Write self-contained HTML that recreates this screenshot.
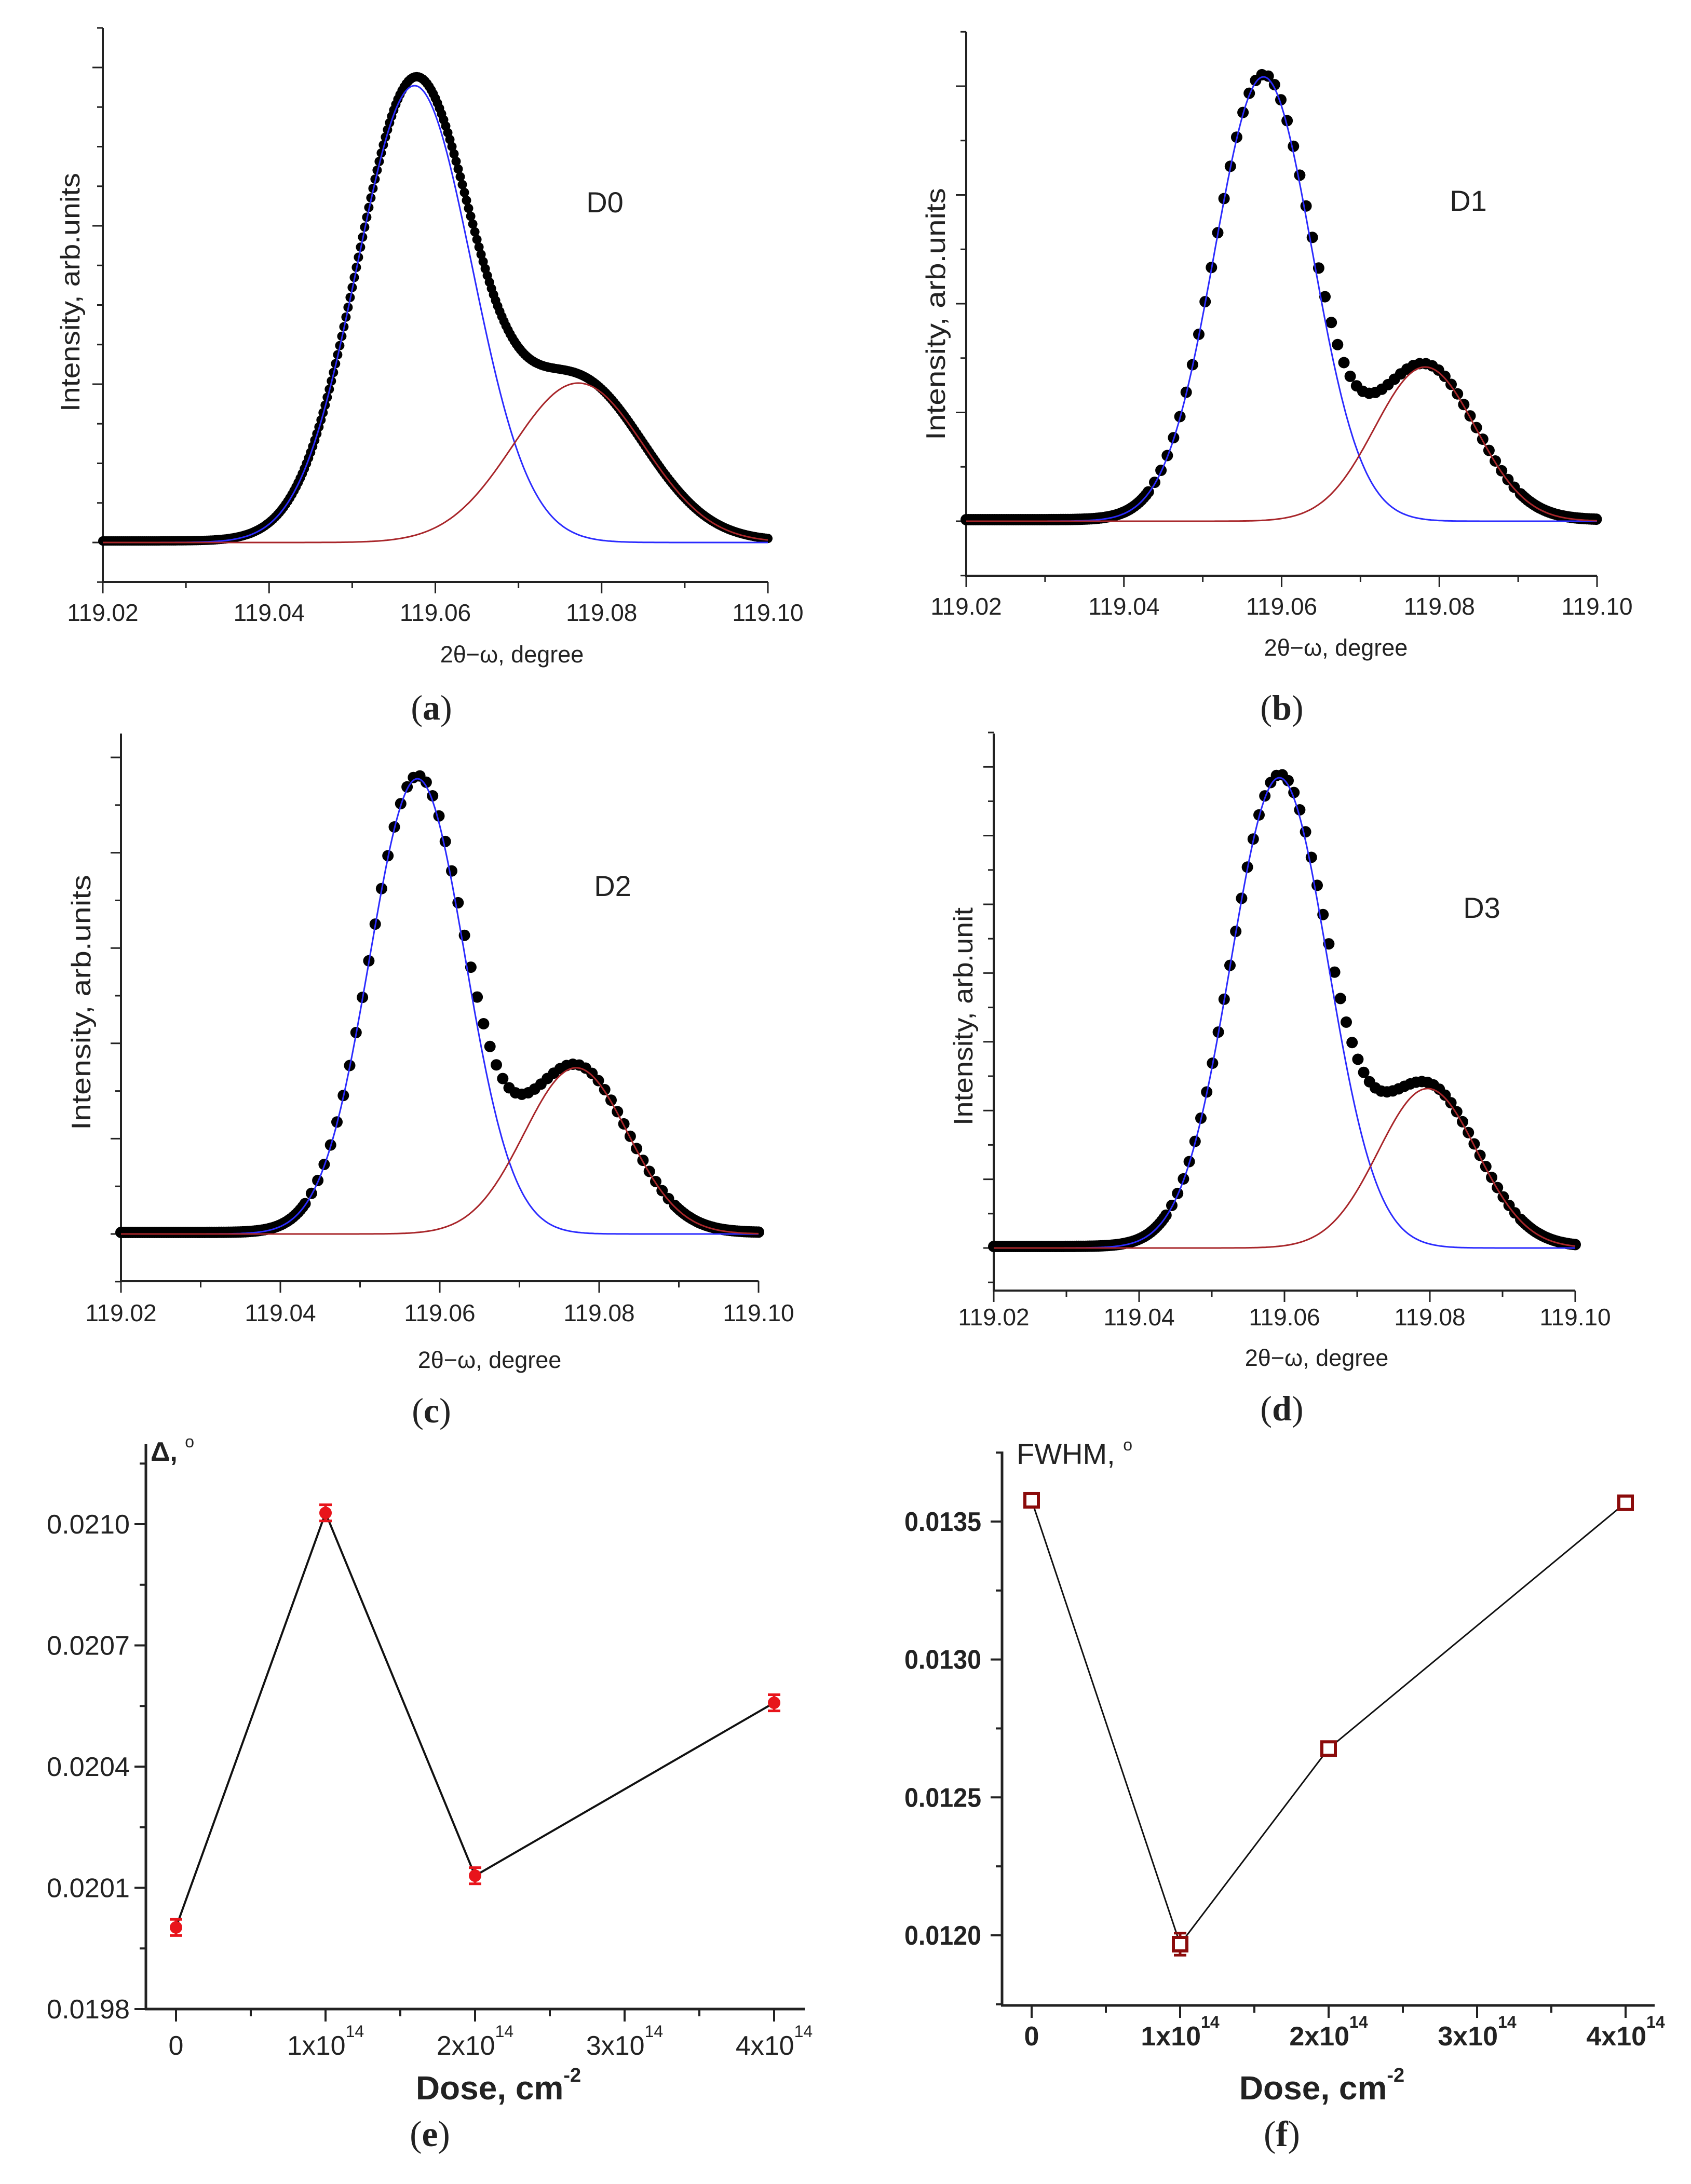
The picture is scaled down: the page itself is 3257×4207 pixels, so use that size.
<!DOCTYPE html>
<html><head><meta charset="utf-8"><style>
html,body{margin:0;padding:0;background:#fff}
svg{display:block}
text{font-family:"Liberation Sans",sans-serif;fill:#222}
</style></head><body>
<svg id="fig" width="3257" height="4207" viewBox="0 0 3257 4207" xmlns="http://www.w3.org/2000/svg">
<rect x="0" y="0" width="3257" height="4207" fill="#fff"/>
</svg>
<script>
// ---- data: spectra peak parameters (normalized intensity) ----
const xTickValues = [119.02, 119.04, 119.06, 119.08, 119.10];
const xTickLabels = ["119.02", "119.04", "119.06", "119.08", "119.10"];
const centersA = [119.0575, 119.0772];
const heightsA = [1.0, 0.349];
const sigmasA = [0.0069, 0.0079];
const centersB = [119.0577, 119.0782];
const heightsB = [1.0, 0.347];
const sigmasB = [0.0062, 0.0064];
const centersC = [119.0572, 119.0771];
const heightsC = [1.0, 0.365];
const sigmasC = [0.0060, 0.0065];
const centersD = [119.0593, 119.0797];
const heightsD = [1.0, 0.339];
const sigmasD = [0.0067, 0.0068];
// ---- data: dose plots ----
const doseValues = [0, 1e14, 2e14, 4e14];
const deltaValues = [0.020002, 0.021028, 0.02013, 0.020558];
const deltaErrors = [0.00002, 0.00002, 0.00002, 0.00002];
const deltaTicks = [0.0198, 0.0201, 0.0204, 0.0207, 0.0210];
const deltaTickLabels = ["0.0198", "0.0201", "0.0204", "0.0207", "0.0210"];
const fwhmValues = [0.013577, 0.011968, 0.012677, 0.013568];
const fwhmErrors = [0.00001, 0.00004, 0.00001, 0.00001];
const fwhmTicks = [0.0120, 0.0125, 0.0130, 0.0135];
const fwhmTickLabels = ["0.0120", "0.0125", "0.0130", "0.0135"];
const doseTicks = [0, 1e14, 2e14, 3e14, 4e14];
const doseTickMant = ["0", "1x10", "2x10", "3x10", "4x10"];
const doseTickExp = ["", "14", "14", "14", "14"];

const NS = "http://www.w3.org/2000/svg";
const svg = document.getElementById("fig");
function mk(tag, attrs, parent) {
  const e = document.createElementNS(NS, tag);
  for (const k in attrs) e.setAttribute(k, attrs[k]);
  (parent || svg).appendChild(e);
  return e;
}
function gauss(x, c, h, s) { return h * Math.exp(-((x - c) * (x - c)) / (2 * s * s)); }

function spectrum(L, centers, heights, sigmas, name) {
  const g = mk("g", {});
  
  
  const X = v => L.x0 + (v - 119.02) / 0.08 * (L.x1 - L.x0);
  const Y = v => L.yBase - v * (L.yBase - L.yPeak);
  const ya = mk("line", {x1: L.x0, y1: L.yTop, x2: L.x0, y2: L.yAxis, stroke: "#222", "stroke-width": 4}, g);
  
  
  const xa = mk("line", {x1: L.x0 - 2, y1: L.yAxis, x2: L.x1, y2: L.yAxis, stroke: "#222", "stroke-width": 4}, g);
  
  
  for (let k = -3; k < 40; k++) {
    const py = L.yBase - k * L.minor;
    if (py < L.yTop - 2 || py > L.yAxis + 2) continue;
    const major = ((k % L.every) + L.every) % L.every === 0;
    const t = mk("line", {x1: L.x0 - (major ? 20 : 11), y1: py, x2: L.x0, y2: py, stroke: "#222", "stroke-width": 3}, g);
    
    
  }
  for (let i = 0; i <= 8; i++) {
    const v = 119.02 + i * 0.01;
    const major = i % 2 === 0;
    const t = mk("line", {x1: X(v), y1: L.yAxis, x2: X(v), y2: L.yAxis + (major ? 22 : 12), stroke: "#222", "stroke-width": 3}, g);
    
    
  }
  xTickValues.forEach((v, i) => {
    const t = mk("text", {x: X(v), y: L.tickY, "text-anchor": "middle", "font-size": 46, fill: "#333"}, g);
    t.textContent = xTickLabels[i];
    
    
  });
  const xt = mk("text", {x: L.titleX, y: L.titleY, "text-anchor": "middle", "font-size": 45, fill: "#333"}, g);
  xt.textContent = "2θ−ω, degree";
  
  
  const yt = mk("text", {x: 0, y: 0, "text-anchor": "middle", "font-size": 52, fill: "#222", textLength: L.ySpan, lengthAdjust: "spacingAndGlyphs", transform: `translate(${L.yTitleX},${L.yTitleY}) rotate(-90)`}, g);
  yt.textContent = L.yText;
  
  
  const sl = mk("text", {x: L.dX, y: L.dY, "text-anchor": "middle", "font-size": 56, fill: "#222"}, g);
  sl.textContent = L.dText;
  
  
  const pl = mk("text", {x: L.pX, y: L.pY, "text-anchor": "middle", "font-size": 68, style: 'font-family:"Liberation Serif",serif', fill: "#111"}, g);
  pl.innerHTML = '(<tspan font-weight="bold">' + L.pText + '</tspan>)';
  
  
  const dg = mk("g", {fill: "#000"}, g);
  
  
  let x = 119.02;
  while (x <= 119.1001) {
    let s = 0;
    for (let j = 0; j < centers.length; j++) s += gauss(x, centers[j], heights[j], sigmas[j]);
    const c = mk("circle", {cx: X(x).toFixed(1), cy: (Y(s) - 3).toFixed(1), r: L.r}, dg);
    
    
    x += (s < 0.06 ? Math.min(L.step, 0.0003) : L.step);
  }
  const colors = ["#2b2bff", "#a8262a"];
  for (let j = 0; j < centers.length; j++) {
    let d = "";
    for (let xx = 119.02; xx <= 119.1001; xx += 0.0002) {
      d += (d ? "L" : "M") + X(xx).toFixed(1) + "," + Y(gauss(xx, centers[j], heights[j], sigmas[j])).toFixed(1);
    }
    const p = mk("path", {d: d, fill: "none", stroke: colors[j], "stroke-width": 3}, g);
    
    
  }
}

spectrum({x0: 198, x1: 1479, yTop: 54, yAxis: 1121, yBase: 1045, yPeak: 165, minor: 76.25, every: 4,
  tickY: 1196, titleX: 986, titleY: 1276, yTitleX: 153, yTitleY: 563, ySpan: 460, yText: "Intensity, arb.units",
  dX: 1165, dY: 409, dText: "D0", pX: 831, pY: 1386, pText: "a", step: 0.00025, r: 9},
  centersA, heightsA, sigmasA, "panel-a-d0");
spectrum({x0: 1861, x1: 3076, yTop: 61, yAxis: 1109, yBase: 1004, yPeak: 148, minor: 104.75, every: 2,
  tickY: 1184, titleX: 2573, titleY: 1263, yTitleX: 1820, yTitleY: 605, ySpan: 486, yText: "Intensity, arb.units",
  dX: 2828, dY: 406, dText: "D1", pX: 2469, pY: 1386, pText: "b", step: 0.0008, r: 11},
  centersB, heightsB, sigmasB, "panel-b-d1");
spectrum({x0: 233, x1: 1461, yTop: 1413, yAxis: 2468, yBase: 2377, yPeak: 1500, minor: 91.8, every: 2,
  tickY: 2545, titleX: 943, titleY: 2635, yTitleX: 174, yTitleY: 1931, ySpan: 492, yText: "Intensity, arb.units",
  dX: 1180, dY: 1726, dText: "D2", pX: 831, pY: 2740, pText: "c", step: 0.0008, r: 11},
  centersC, heightsC, sigmasC, "panel-c-d2");
spectrum({x0: 1914, x1: 3034, yTop: 1413, yAxis: 2486, yBase: 2404, yPeak: 1498, minor: 66.2, every: 2,
  tickY: 2553, titleX: 2536, titleY: 2631, yTitleX: 1873, yTitleY: 1958, ySpan: 420, yText: "Intensity, arb.unit",
  dX: 2854, dY: 1768, dText: "D3", pX: 2469, pY: 2736, pText: "d", step: 0.0008, r: 11},
  centersD, heightsD, sigmasD, "panel-d-d3");

function dosePlot(L, values, errors, yTicks, yLabels, name, bold, marker) {
  const g = mk("g", {});
  
  
  const X = v => L.xZero + v / 1e14 * L.xPer;
  const Y = v => L.yRef - (v - L.vRef) / L.vStep * L.yStep;
  const fw = bold ? "bold" : "normal";
  const ya = mk("line", {x1: L.ax, y1: L.top, x2: L.ax, y2: L.axY, stroke: "#222", "stroke-width": 5}, g);
  
  
  const xa = mk("line", {x1: L.ax - 2, y1: L.axY, x2: L.right, y2: L.axY, stroke: "#222", "stroke-width": 5}, g);
  
  
  for (let k = -2; k < 2 * yTicks.length + 2; k++) {
    const v = yTicks[0] + k * L.vStep / 2;
    const py = Y(v);
    if (py < L.top - 3 || py > L.axY + 3) continue;
    const major = k % 2 === 0;
    const t = mk("line", {x1: L.ax - (major ? 22 : 12), y1: py, x2: L.ax, y2: py, stroke: "#222", "stroke-width": 4}, g);
    
    
  }
  yTicks.forEach((v, i) => {
    const t = mk("text", {x: L.labR, y: Y(v) + 18, "text-anchor": "end", "font-size": 52, "font-weight": fw, textLength: L.labW, lengthAdjust: "spacingAndGlyphs"}, g);
    t.textContent = yLabels[i];
    
    
  });
  for (let k = 0; k <= 8; k++) {
    const v = k * 0.5e14;
    const px = X(v);
    if (px > L.right) continue;
    const major = k % 2 === 0;
    const t = mk("line", {x1: px, y1: L.axY, x2: px, y2: L.axY + (major ? 24 : 14), stroke: "#222", "stroke-width": 4}, g);
    
    
  }
  doseTicks.forEach((v, i) => {
    const t = mk("text", {x: X(v), y: L.xLabY, "text-anchor": "middle", "font-size": 52, "font-weight": fw}, g);
    t.innerHTML = doseTickMant[i] + (doseTickExp[i] ? '<tspan font-size="32" dy="-34">' + doseTickExp[i] + '</tspan>' : '');
    
    
  });
  const xt = mk("text", {x: L.titleX, y: 4044, "text-anchor": "middle", "font-size": 64, "font-weight": "bold", fill: "#111"}, g);
  xt.innerHTML = 'Dose, cm<tspan font-size="38" dy="-34">-2</tspan>';
  
  
  const yt = mk("text", {x: L.yTitleX, y: L.yTitleY, "font-size": L.yTitleFs, "font-weight": L.yTitleW, fill: "#111"}, g);
  yt.innerHTML = L.yTitle + '<tspan font-size="32" dy="-26" font-weight="normal">o</tspan>';
  
  
  const pl = mk("text", {x: L.pX, y: 4134, "text-anchor": "middle", "font-size": 70, style: 'font-family:"Liberation Serif",serif', fill: "#111"}, g);
  pl.innerHTML = '(<tspan font-weight="bold">' + L.pText + '</tspan>)';
  
  
  const pts = doseValues.map((d, i) => X(d).toFixed(1) + "," + Y(values[i]).toFixed(1)).join(" ");
  const pl2 = mk("polyline", {points: pts, fill: "none", stroke: "#111", "stroke-width": L.lineW}, g);
  
  
  doseValues.forEach((d, i) => {
    const cx = X(d), cy = Y(values[i]);
    const eh = errors[i] / L.vStep * L.yStep;
    const eg = mk("g", {stroke: L.mColor, "stroke-width": 5}, g);
    
    
    mk("line", {x1: cx, y1: cy - eh, x2: cx, y2: cy + eh}, eg);
    mk("line", {x1: cx - 12, y1: cy - eh, x2: cx + 12, y2: cy - eh}, eg);
    mk("line", {x1: cx - 12, y1: cy + eh, x2: cx + 12, y2: cy + eh}, eg);
    let m;
    if (marker === "circle") {
      m = mk("circle", {cx: cx, cy: cy, r: 11, fill: "#e8141b", stroke: "#e8141b", "stroke-width": 2}, g);
    } else {
      m = mk("rect", {x: cx - 13, y: cy - 13, width: 26, height: 26, fill: "#fff", stroke: "#8b0b0b", "stroke-width": 6}, g);
    }
    
    
  });
}

dosePlot({ax: 281, top: 2782, axY: 3870, right: 1550, xZero: 339, xPer: 288, yRef: 3870, vRef: 0.0198, vStep: 0.0003, yStep: 233.5,
  labR: 250, labW: 160, xLabY: 3958, titleX: 960, yTitleX: 290, yTitleY: 2814, yTitleFs: 52, yTitleW: "bold", yTitle: "Δ, ",
  pX: 828, pText: "e", lineW: 4, mColor: "#e8141b"},
  deltaValues, deltaErrors, deltaTicks, deltaTickLabels, "panel-e-delta-vs-dose", false, "circle");
dosePlot({ax: 1930, top: 2796, axY: 3863, right: 3187, xZero: 1987, xPer: 286, yRef: 3728, vRef: 0.0120, vStep: 0.0005, yStep: 265.7,
  labR: 1890, labW: 148, xLabY: 3940, titleX: 2546, yTitleX: 1958, yTitleY: 2820, yTitleFs: 56, yTitleW: "normal", yTitle: "FWHM, ",
  pX: 2469, pText: "f", lineW: 3, mColor: "#8b0b0b"},
  fwhmValues, fwhmErrors, fwhmTicks, fwhmTickLabels, "panel-f-fwhm-vs-dose", true, "square");
</script>
</body></html>
